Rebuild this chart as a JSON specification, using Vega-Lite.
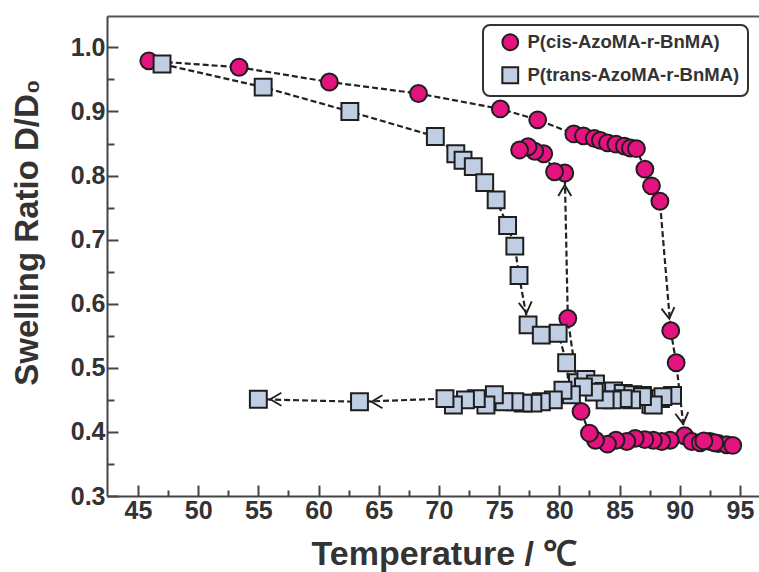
{
  "$schema": "https://vega.github.io/schema/vega-lite/v6.json",
  "width": 652,
  "height": 480,
  "autosize": {"type": "none"},
  "padding": {"left": 107, "top": 16, "right": 0, "bottom": 76},
  "background": "white",
  "config": {
    "view": {"stroke": null},
    "font": "Liberation Sans",
    "legend": {
      "orient": "none",
      "legendX": 376,
      "legendY": 9,
      "padding": 8,
      "strokeColor": "#333",
      "strokeWidth": 2,
      "cornerRadius": 7,
      "fillColor": "white",
      "symbolOffset": 10,
      "symbolSize": 250,
      "symbolStrokeWidth": 2,
      "labelFont": "Liberation Sans",
      "labelFontWeight": "bold",
      "labelFontSize": 18.5,
      "labelColor": "#333",
      "labelOffset": 8,
      "labelLimit": 400,
      "rowPadding": 8
    }
  },
  "data": {
    "values": [
      {"s": "P(cis-AzoMA-r-BnMA)", "o": 1, "T": 45.9, "R": 0.979},
      {"s": "P(cis-AzoMA-r-BnMA)", "o": 2, "T": 53.4, "R": 0.969},
      {"s": "P(cis-AzoMA-r-BnMA)", "o": 3, "T": 60.9, "R": 0.946},
      {"s": "P(cis-AzoMA-r-BnMA)", "o": 4, "T": 68.3, "R": 0.928},
      {"s": "P(cis-AzoMA-r-BnMA)", "o": 5, "T": 75.1, "R": 0.904},
      {"s": "P(cis-AzoMA-r-BnMA)", "o": 6, "T": 78.2, "R": 0.887},
      {"s": "P(cis-AzoMA-r-BnMA)", "o": 7, "T": 81.2, "R": 0.865},
      {"s": "P(cis-AzoMA-r-BnMA)", "o": 8, "T": 82.0, "R": 0.862},
      {"s": "P(cis-AzoMA-r-BnMA)", "o": 9, "T": 82.9, "R": 0.858},
      {"s": "P(cis-AzoMA-r-BnMA)", "o": 10, "T": 83.4, "R": 0.855},
      {"s": "P(cis-AzoMA-r-BnMA)", "o": 11, "T": 84.0, "R": 0.851},
      {"s": "P(cis-AzoMA-r-BnMA)", "o": 12, "T": 84.7, "R": 0.849},
      {"s": "P(cis-AzoMA-r-BnMA)", "o": 13, "T": 85.4, "R": 0.846},
      {"s": "P(cis-AzoMA-r-BnMA)", "o": 14, "T": 85.9, "R": 0.843},
      {"s": "P(cis-AzoMA-r-BnMA)", "o": 15, "T": 86.4, "R": 0.842},
      {"s": "P(cis-AzoMA-r-BnMA)", "o": 16, "T": 87.1, "R": 0.810},
      {"s": "P(cis-AzoMA-r-BnMA)", "o": 17, "T": 87.65, "R": 0.784},
      {"s": "P(cis-AzoMA-r-BnMA)", "o": 18, "T": 88.35, "R": 0.760},
      {"s": "P(cis-AzoMA-r-BnMA)", "o": 19, "T": 89.25, "R": 0.558, "a": "down"},
      {"s": "P(cis-AzoMA-r-BnMA)", "o": 20, "T": 89.7, "R": 0.508},
      {"s": "P(cis-AzoMA-r-BnMA)", "o": 21, "T": 90.4, "R": 0.394, "a": "down"},
      {"s": "P(cis-AzoMA-r-BnMA)", "o": 22, "T": 91.0, "R": 0.385},
      {"s": "P(cis-AzoMA-r-BnMA)", "o": 23, "T": 91.7, "R": 0.383},
      {"s": "P(cis-AzoMA-r-BnMA)", "o": 24, "T": 92.5, "R": 0.385},
      {"s": "P(cis-AzoMA-r-BnMA)", "o": 25, "T": 93.2, "R": 0.382},
      {"s": "P(cis-AzoMA-r-BnMA)", "o": 26, "T": 93.9, "R": 0.380},
      {"s": "P(cis-AzoMA-r-BnMA)", "o": 27, "T": 94.4, "R": 0.379},
      {"s": "P(cis-AzoMA-r-BnMA)", "o": 28, "T": 92.9, "R": 0.383},
      {"s": "P(cis-AzoMA-r-BnMA)", "o": 29, "T": 92.0, "R": 0.386},
      {"s": "P(cis-AzoMA-r-BnMA)", "o": 30, "T": 89.2, "R": 0.387},
      {"s": "P(cis-AzoMA-r-BnMA)", "o": 31, "T": 88.5, "R": 0.385},
      {"s": "P(cis-AzoMA-r-BnMA)", "o": 32, "T": 87.8, "R": 0.387},
      {"s": "P(cis-AzoMA-r-BnMA)", "o": 33, "T": 87.1, "R": 0.388},
      {"s": "P(cis-AzoMA-r-BnMA)", "o": 34, "T": 86.3, "R": 0.390},
      {"s": "P(cis-AzoMA-r-BnMA)", "o": 35, "T": 85.6, "R": 0.385},
      {"s": "P(cis-AzoMA-r-BnMA)", "o": 36, "T": 84.7, "R": 0.387},
      {"s": "P(cis-AzoMA-r-BnMA)", "o": 37, "T": 84.0, "R": 0.381},
      {"s": "P(cis-AzoMA-r-BnMA)", "o": 38, "T": 83.0, "R": 0.387},
      {"s": "P(cis-AzoMA-r-BnMA)", "o": 39, "T": 82.5, "R": 0.398},
      {"s": "P(cis-AzoMA-r-BnMA)", "o": 40, "T": 81.8, "R": 0.432},
      {"s": "P(cis-AzoMA-r-BnMA)", "o": 41, "T": 80.7, "R": 0.577},
      {"s": "P(cis-AzoMA-r-BnMA)", "o": 42, "T": 80.45, "R": 0.804, "a": "up"},
      {"s": "P(cis-AzoMA-r-BnMA)", "o": 43, "T": 79.6, "R": 0.806},
      {"s": "P(cis-AzoMA-r-BnMA)", "o": 44, "T": 78.7, "R": 0.834},
      {"s": "P(cis-AzoMA-r-BnMA)", "o": 45, "T": 77.95, "R": 0.838},
      {"s": "P(cis-AzoMA-r-BnMA)", "o": 46, "T": 77.4, "R": 0.845},
      {"s": "P(cis-AzoMA-r-BnMA)", "o": 47, "T": 76.7, "R": 0.840},

      {"s": "P(trans-AzoMA-r-BnMA)", "o": 1, "T": 47.0, "R": 0.974},
      {"s": "P(trans-AzoMA-r-BnMA)", "o": 2, "T": 55.4, "R": 0.938},
      {"s": "P(trans-AzoMA-r-BnMA)", "o": 3, "T": 62.6, "R": 0.900},
      {"s": "P(trans-AzoMA-r-BnMA)", "o": 4, "T": 69.7, "R": 0.861},
      {"s": "P(trans-AzoMA-r-BnMA)", "o": 5, "T": 71.4, "R": 0.834},
      {"s": "P(trans-AzoMA-r-BnMA)", "o": 6, "T": 72.0, "R": 0.824},
      {"s": "P(trans-AzoMA-r-BnMA)", "o": 7, "T": 72.85, "R": 0.814},
      {"s": "P(trans-AzoMA-r-BnMA)", "o": 8, "T": 73.8, "R": 0.789},
      {"s": "P(trans-AzoMA-r-BnMA)", "o": 9, "T": 74.75, "R": 0.762},
      {"s": "P(trans-AzoMA-r-BnMA)", "o": 10, "T": 75.7, "R": 0.722},
      {"s": "P(trans-AzoMA-r-BnMA)", "o": 11, "T": 76.3, "R": 0.690},
      {"s": "P(trans-AzoMA-r-BnMA)", "o": 12, "T": 76.65, "R": 0.644},
      {"s": "P(trans-AzoMA-r-BnMA)", "o": 13, "T": 77.4, "R": 0.567, "a": "down"},
      {"s": "P(trans-AzoMA-r-BnMA)", "o": 14, "T": 78.5, "R": 0.551},
      {"s": "P(trans-AzoMA-r-BnMA)", "o": 15, "T": 79.9, "R": 0.554},
      {"s": "P(trans-AzoMA-r-BnMA)", "o": 16, "T": 80.6, "R": 0.508},
      {"s": "P(trans-AzoMA-r-BnMA)", "o": 17, "T": 80.8, "R": 0.464},
      {"s": "P(trans-AzoMA-r-BnMA)", "o": 18, "T": 81.5, "R": 0.477},
      {"s": "P(trans-AzoMA-r-BnMA)", "o": 19, "T": 82.2, "R": 0.482},
      {"s": "P(trans-AzoMA-r-BnMA)", "o": 20, "T": 83.0, "R": 0.475},
      {"s": "P(trans-AzoMA-r-BnMA)", "o": 21, "T": 83.7, "R": 0.463},
      {"s": "P(trans-AzoMA-r-BnMA)", "o": 22, "T": 84.5, "R": 0.464},
      {"s": "P(trans-AzoMA-r-BnMA)", "o": 23, "T": 85.3, "R": 0.460},
      {"s": "P(trans-AzoMA-r-BnMA)", "o": 24, "T": 86.1, "R": 0.458},
      {"s": "P(trans-AzoMA-r-BnMA)", "o": 25, "T": 86.9, "R": 0.457},
      {"s": "P(trans-AzoMA-r-BnMA)", "o": 26, "T": 87.6, "R": 0.443},
      {"s": "P(trans-AzoMA-r-BnMA)", "o": 27, "T": 88.4, "R": 0.452},
      {"s": "P(trans-AzoMA-r-BnMA)", "o": 28, "T": 89.4, "R": 0.457},
      {"s": "P(trans-AzoMA-r-BnMA)", "o": 29, "T": 88.6, "R": 0.455},
      {"s": "P(trans-AzoMA-r-BnMA)", "o": 30, "T": 87.8, "R": 0.442},
      {"s": "P(trans-AzoMA-r-BnMA)", "o": 31, "T": 86.9, "R": 0.455},
      {"s": "P(trans-AzoMA-r-BnMA)", "o": 32, "T": 86.0, "R": 0.450},
      {"s": "P(trans-AzoMA-r-BnMA)", "o": 33, "T": 85.3, "R": 0.452},
      {"s": "P(trans-AzoMA-r-BnMA)", "o": 34, "T": 84.4, "R": 0.450},
      {"s": "P(trans-AzoMA-r-BnMA)", "o": 35, "T": 83.8, "R": 0.450},
      {"s": "P(trans-AzoMA-r-BnMA)", "o": 36, "T": 82.9, "R": 0.462},
      {"s": "P(trans-AzoMA-r-BnMA)", "o": 37, "T": 82.0, "R": 0.470},
      {"s": "P(trans-AzoMA-r-BnMA)", "o": 38, "T": 81.0, "R": 0.458},
      {"s": "P(trans-AzoMA-r-BnMA)", "o": 39, "T": 80.3, "R": 0.465},
      {"s": "P(trans-AzoMA-r-BnMA)", "o": 40, "T": 79.5, "R": 0.450},
      {"s": "P(trans-AzoMA-r-BnMA)", "o": 41, "T": 78.5, "R": 0.447},
      {"s": "P(trans-AzoMA-r-BnMA)", "o": 42, "T": 77.8, "R": 0.445},
      {"s": "P(trans-AzoMA-r-BnMA)", "o": 43, "T": 77.0, "R": 0.445},
      {"s": "P(trans-AzoMA-r-BnMA)", "o": 44, "T": 76.3, "R": 0.447},
      {"s": "P(trans-AzoMA-r-BnMA)", "o": 45, "T": 75.4, "R": 0.447},
      {"s": "P(trans-AzoMA-r-BnMA)", "o": 46, "T": 74.6, "R": 0.458},
      {"s": "P(trans-AzoMA-r-BnMA)", "o": 47, "T": 73.9, "R": 0.442},
      {"s": "P(trans-AzoMA-r-BnMA)", "o": 48, "T": 73.1, "R": 0.452},
      {"s": "P(trans-AzoMA-r-BnMA)", "o": 49, "T": 72.2, "R": 0.450},
      {"s": "P(trans-AzoMA-r-BnMA)", "o": 50, "T": 71.2, "R": 0.442},
      {"s": "P(trans-AzoMA-r-BnMA)", "o": 51, "T": 70.5, "R": 0.452},
      {"s": "P(trans-AzoMA-r-BnMA)", "o": 52, "T": 63.4, "R": 0.447, "a": "left"},
      {"s": "P(trans-AzoMA-r-BnMA)", "o": 53, "T": 55.0, "R": 0.451, "a": "left"}
    ]
  },
  "resolve": {"axis": {"x": "independent", "y": "independent"}},
  "layer": [
    {
      "mark": {"type": "line", "stroke": "#222", "strokeWidth": 2.2, "strokeDash": [6, 3]},
      "encoding": {
        "x": {
          "field": "T", "type": "quantitative",
          "scale": {"domain": [42.43, 96.58], "nice": false, "zero": false},
          "axis": {
            "orient": "bottom",
            "values": [45, 50, 55, 60, 65, 70, 75, 80, 85, 90, 95],
            "grid": false,
            "tickSize": -11, "tickWidth": 2, "tickColor": "#444",
            "domainColor": "#444", "domainWidth": 2,
            "labelPadding": 13, "labelFont": "Liberation Sans", "labelFontWeight": "bold",
            "labelFontSize": 25, "labelColor": "#333", "labelFlush": false, "labelOverlap": false,
            "title": "Temperature / ℃",
            "titleFont": "Liberation Sans", "titleFontWeight": "bold", "titleFontSize": 34,
            "titleColor": "#333", "titleBaseline": "alphabetic", "titleX": 337, "titleY": 68
          }
        },
        "y": {
          "field": "R", "type": "quantitative",
          "scale": {"domain": [0.3, 1.049], "nice": false, "zero": false},
          "axis": {
            "orient": "left",
            "values": [0.3, 0.4, 0.5, 0.6, 0.7, 0.8, 0.9, 1.0],
            "format": ".1f",
            "grid": false,
            "tickSize": -11, "tickWidth": 2, "tickColor": "#444",
            "domainColor": "#444", "domainWidth": 2,
            "labelPadding": 13, "labelFont": "Liberation Sans", "labelFontWeight": "bold",
            "labelFontSize": 25, "labelColor": "#333", "labelFlush": false, "labelOverlap": false,
            "title": "Swelling Ratio D/D₀",
            "titleFont": "Liberation Sans", "titleFontWeight": "bold", "titleFontSize": 33,
            "titleColor": "#333", "titleBaseline": "alphabetic", "titleAngle": -90,
            "titleX": -70, "titleY": 216
          }
        },
        "detail": {"field": "s", "type": "nominal"},
        "order": {"field": "o", "type": "quantitative"}
      }
    },
    {
      "mark": {"type": "point", "filled": true, "size": 285, "opacity": 1, "strokeWidth": 2},
      "encoding": {
        "x": {
          "field": "T", "type": "quantitative",
          "axis": {
            "orient": "bottom",
            "values": [47.5, 52.5, 57.5, 62.5, 67.5, 72.5, 77.5, 82.5, 87.5, 92.5],
            "grid": false, "labels": false, "domain": false, "title": null,
            "tickSize": -6, "tickWidth": 2, "tickColor": "#444"
          }
        },
        "y": {
          "field": "R", "type": "quantitative",
          "axis": {
            "orient": "left",
            "values": [0.35, 0.45, 0.55, 0.65, 0.75, 0.85, 0.95],
            "grid": false, "labels": false, "domain": false, "title": null,
            "tickSize": -7, "tickWidth": 2, "tickColor": "#444"
          }
        },
        "fill": {
          "field": "s", "type": "nominal",
          "scale": {"domain": ["P(cis-AzoMA-r-BnMA)", "P(trans-AzoMA-r-BnMA)"], "range": ["#e4137f", "#c0cee3"]},
          "legend": {"title": null}
        },
        "stroke": {
          "field": "s", "type": "nominal",
          "scale": {"domain": ["P(cis-AzoMA-r-BnMA)", "P(trans-AzoMA-r-BnMA)"], "range": ["#1e1e1e", "#1e1e1e"]},
          "legend": {"title": null}
        },
        "shape": {
          "field": "s", "type": "nominal",
          "scale": {"domain": ["P(cis-AzoMA-r-BnMA)", "P(trans-AzoMA-r-BnMA)"], "range": ["circle", "square"]},
          "legend": {"title": null}
        }
      }
    },
    {
      "transform": [{"filter": "datum.a === 'down'"}],
      "mark": {"type": "point", "shape": "M -0.65 -2.3 L 0 -1.2 L 0.65 -2.3", "filled": false, "stroke": "#222", "strokeWidth": 1.9, "size": 400, "angle": -7, "opacity": 1},
      "encoding": {
        "x": {
          "field": "T", "type": "quantitative",
          "axis": {
            "orient": "top", "grid": false, "labels": false, "ticks": false, "title": null,
            "domain": true, "domainColor": "#555", "domainWidth": 2
          }
        },
        "y": {"field": "R", "type": "quantitative", "axis": null}
      }
    },
    {
      "transform": [{"filter": "datum.a === 'up'"}],
      "mark": {"type": "point", "shape": "M -0.65 -2.3 L 0 -1.2 L 0.65 -2.3", "filled": false, "stroke": "#222", "strokeWidth": 1.9, "size": 400, "angle": 180, "opacity": 1},
      "encoding": {
        "x": {"field": "T", "type": "quantitative", "axis": null},
        "y": {"field": "R", "type": "quantitative", "axis": null}
      }
    },
    {
      "transform": [{"filter": "datum.a === 'left'"}],
      "mark": {"type": "point", "shape": "M -0.65 -2.3 L 0 -1.2 L 0.65 -2.3", "filled": false, "stroke": "#222", "strokeWidth": 1.9, "size": 400, "angle": 90, "opacity": 1},
      "encoding": {
        "x": {"field": "T", "type": "quantitative", "axis": null},
        "y": {"field": "R", "type": "quantitative", "axis": null}
      }
    }
  ]
}
